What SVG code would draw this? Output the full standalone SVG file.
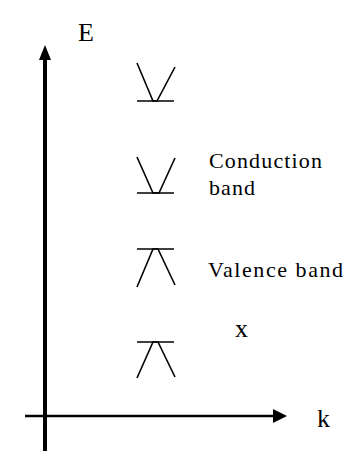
<svg xmlns="http://www.w3.org/2000/svg" width="345" height="451" viewBox="0 0 345 451">
<style>
text{font-family:"Liberation Serif","Times New Roman",serif;fill:#000}
.t{font-size:22px}
.big{font-size:26px}
.band{stroke:#000;stroke-width:1.6;fill:none}
.axis{stroke:#000;fill:none}
</style>
<rect width="345" height="451" fill="#fff"/>
<g id="axes">
<line class="axis" x1="45" y1="451" x2="45" y2="58" stroke-width="4"/>
<polygon points="45,45 39,60 51,60" fill="#000"/>
<line class="axis" x1="25" y1="416" x2="274" y2="416" stroke-width="2.5"/>
<polygon points="287,416 273,409 273,423" fill="#000"/>
</g>
<g id="label-E"><text class="big" x="78" y="41">E</text></g>
<g id="label-k"><text class="big" x="317" y="427">k</text></g>
<g id="band1">
<line class="band" x1="137" y1="101" x2="174" y2="101"/>
<polyline class="band" points="137,63 153,101 157,101 175,67"/>
</g>
<g id="band2">
<line class="band" x1="137" y1="193" x2="174" y2="193"/>
<polyline class="band" points="137,157 153,193 159,193 175,158"/>
</g>
<g id="band3">
<line class="band" x1="137" y1="249" x2="174" y2="249"/>
<polyline class="band" points="137,287 153,249 158,249 175,285"/>
</g>
<g id="band4">
<line class="band" x1="137" y1="342" x2="174" y2="342"/>
<polyline class="band" points="137,378 153,342 158,342 175,377"/>
</g>
<g id="label-conduction">
<text class="t" x="209" y="168" textLength="113" lengthAdjust="spacing">Conduction</text>
<text class="t" x="209" y="195" textLength="46" lengthAdjust="spacing">band</text>
</g>
<g id="label-valence"><text class="t" x="208" y="277" textLength="135" lengthAdjust="spacing">Valence band</text></g>
<g id="label-x"><text class="big" x="235" y="337">x</text></g>
</svg>
